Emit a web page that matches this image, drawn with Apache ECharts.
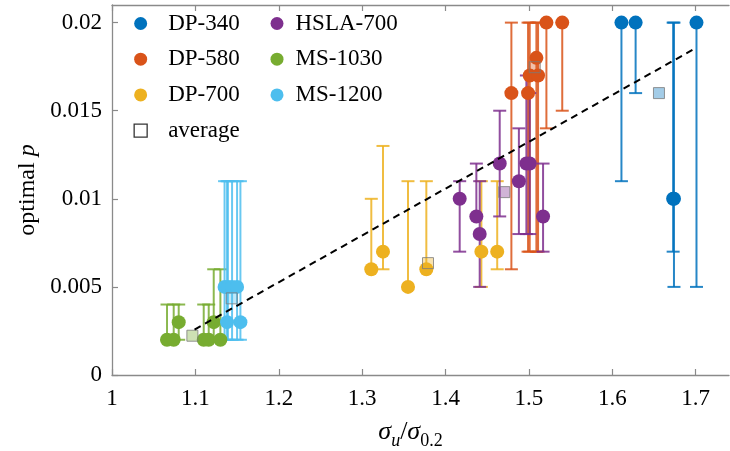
<!DOCTYPE html>
<html>
<head>
<meta charset="utf-8">
<script src="https://cdn.jsdelivr.net/npm/echarts@6/dist/echarts.min.js"></script>
<style>
  html, body { margin: 0; padding: 0; background: #fff; }
  #chart { width: 730px; height: 451px; }
</style>
</head>
<body>
<div id="chart"></div>
<script>
// Strength ratio (sigma_u / sigma_0.2) against the optimal p of each specimen,
// with the range of acceptable p drawn as an error bar.
const xTicks = [1, 1.1, 1.2, 1.3, 1.4, 1.5, 1.6, 1.7];
const yTicks = [0, 0.005, 0.01, 0.015, 0.02];

const dp340X  = [1.611, 1.628, 1.673, 1.674, 1.701];
const dp340P  = [0.020, 0.020, 0.010, 0.010, 0.020];
const dp340Lo = [0.011, 0.016, 0.007, 0.005, 0.005];
const dp340Hi = [0.020, 0.020, 0.020, 0.020, 0.020];

const dp580X  = [1.479, 1.499, 1.501, 1.509, 1.511, 1.521, 1.540];
const dp580P  = [0.016, 0.016, 0.017, 0.018, 0.017, 0.020, 0.020];
const dp580Lo = [0.006, 0.007, 0.007, 0.007, 0.007, 0.014, 0.015];
const dp580Hi = [0.020, 0.020, 0.020, 0.020, 0.020, 0.020, 0.020];

const dp700X  = [1.311, 1.325, 1.355, 1.377, 1.443, 1.462];
const dp700P  = [0.006, 0.007, 0.005, 0.006, 0.007, 0.007];
const dp700Lo = [0.006, 0.006, 0.005, 0.006, 0.005, 0.006];
const dp700Hi = [0.010, 0.013, 0.011, 0.011, 0.011, 0.011];

const hslaX  = [1.417, 1.437, 1.441, 1.465, 1.488, 1.497, 1.501, 1.517];
const hslaP  = [0.010, 0.009, 0.008, 0.012, 0.011, 0.012, 0.012, 0.009];
const hslaLo = [0.007, 0.009, 0.005, 0.009, 0.008, 0.008, 0.008, 0.007];
const hslaHi = [0.011, 0.012, 0.011, 0.015, 0.014, 0.017, 0.016, 0.012];

const ms1030X  = [1.066, 1.074, 1.080, 1.110, 1.116, 1.122, 1.130];
const ms1030P  = [0.002, 0.002, 0.003, 0.002, 0.002, 0.003, 0.002];
const ms1030Lo = [0.002, 0.002, 0.002, 0.002, 0.002, 0.002, 0.002];
const ms1030Hi = [0.004, 0.004, 0.004, 0.004, 0.004, 0.006, 0.006];

const ms1200X  = [1.135, 1.138, 1.139, 1.144, 1.150, 1.154];
const ms1200P  = [0.005, 0.003, 0.005, 0.005, 0.005, 0.003];
const ms1200Lo = [0.002, 0.002, 0.002, 0.002, 0.002, 0.002];
const ms1200Hi = [0.011, 0.011, 0.011, 0.011, 0.011, 0.011];

// Per-material averages and the linear trend through them
const avgX = [1.656, 1.507, 1.379, 1.4705, 1.0964, 1.1436];
const avgP = [0.0160, 0.01747, 0.00635, 0.01038, 0.00223, 0.00435];
const fitX = [1.099, 1.700];
const fitP = [0.00258, 0.01855];

const materials = [
  { name: 'DP-340',   color: '#0072BD', x: dp340X,  p: dp340P,  lo: dp340Lo,  hi: dp340Hi },
  { name: 'DP-580',   color: '#D95319', x: dp580X,  p: dp580P,  lo: dp580Lo,  hi: dp580Hi },
  { name: 'DP-700',   color: '#EDB120', x: dp700X,  p: dp700P,  lo: dp700Lo,  hi: dp700Hi },
  { name: 'HSLA-700', color: '#7E2F8E', x: hslaX,   p: hslaP,   lo: hslaLo,   hi: hslaHi },
  { name: 'MS-1030',  color: '#77AC30', x: ms1030X, p: ms1030P, lo: ms1030Lo, hi: ms1030Hi },
  { name: 'MS-1200',  color: '#4DBEEE', x: ms1200X, p: ms1200P, lo: ms1200Lo, hi: ms1200Hi }
];

const FONT = 'Liberation Serif';
const AXIS_COLOR = '#8a8a8a';

function hexToRgba(hex, a) {
  const n = parseInt(hex.slice(1), 16);
  return 'rgba(' + (n >> 16) + ',' + ((n >> 8) & 255) + ',' + (n & 255) + ',' + a + ')';
}

function errorBarRenderer(color) {
  return function (params, api) {
    const x = api.value(0);
    const top = api.coord([x, api.value(2)]);
    const bot = api.coord([x, api.value(1)]);
    const hw = 6.5;
    const style = { stroke: hexToRgba(color, 0.85), lineWidth: 2, fill: null };
    return {
      type: 'group',
      children: [
        { type: 'line', shape: { x1: top[0], y1: top[1], x2: bot[0], y2: bot[1] }, style: style },
        { type: 'line', shape: { x1: top[0] - hw, y1: top[1], x2: top[0] + hw, y2: top[1] }, style: style },
        { type: 'line', shape: { x1: bot[0] - hw, y1: bot[1], x2: bot[0] + hw, y2: bot[1] }, style: style }
      ]
    };
  };
}

const series = [];
materials.forEach(function (m) {
  series.push({
    name: m.name + ' range',
    type: 'custom',
    xAxisIndex: 0,
    yAxisIndex: 0,
    z: 2,
    renderItem: errorBarRenderer(m.color),
    encode: { x: 0, y: [1, 2] },
    data: m.x.map(function (x, i) { return [x, m.lo[i], m.hi[i]]; })
  });
  series.push({
    name: m.name,
    type: 'scatter',
    z: 2,
    symbol: 'circle',
    symbolSize: 14,
    itemStyle: { color: m.color, opacity: 1 },
    data: m.x.map(function (x, i) { return [x, m.p[i]]; })
  });
});

series.push({
  name: 'average',
  type: 'scatter',
  z: 3,
  symbol: 'rect',
  symbolSize: 11,
  data: avgX.map(function (x, i) {
    return {
      value: [x, avgP[i]],
      itemStyle: { color: hexToRgba(materials[i].color, 0.45), borderColor: '#7a7a7a', borderWidth: 1 }
    };
  })
});

series.push({
  name: 'fit',
  type: 'line',
  z: 4,
  symbol: 'none',
  lineStyle: { color: '#000', width: 2, type: [7, 5] },
  data: fitX.map(function (x, i) { return [x, fitP[i]]; })
});

const legendText = { fontFamily: FONT, fontSize: 23, color: '#000', lineHeight: 22 };

const option = {
  animation: false,
  backgroundColor: '#fff',
  grid: { left: 112, right: 1, top: 5, bottom: 76, containLabel: false, outerBoundsMode: 'none' },
  legend: [
    {
      orient: 'vertical', left: 128.5, top: 7,
      itemWidth: 13, itemHeight: 13, itemGap: 12.7,
      textStyle: Object.assign({}, legendText, { padding: [0, 0, 0, 16] }),
      data: [
        { name: 'DP-340', icon: 'circle' },
        { name: 'DP-580', icon: 'circle' },
        { name: 'DP-700', icon: 'circle' },
        { name: 'average', icon: 'rect', itemStyle: { color: '#fff', borderColor: '#000', borderWidth: 1.3 } }
      ]
    },
    {
      orient: 'vertical', left: 265.5, top: 7,
      itemWidth: 13, itemHeight: 13, itemGap: 12.7,
      textStyle: Object.assign({}, legendText, { padding: [0, 0, 0, 7] }),
      data: [
        { name: 'HSLA-700', icon: 'circle' },
        { name: 'MS-1030', icon: 'circle' },
        { name: 'MS-1200', icon: 'circle' }
      ]
    }
  ],
  xAxis: [
    {
      type: 'value', min: 1, max: 1.74, interval: 0.1,
      name: '{i|σ}{sub|u}{n|/}{i|σ}{sub2|0.2}',
      nameLocation: 'middle', nameGap: 40,
      nameTextStyle: {
        padding: [0, 20, 0, 0],
        rich: {
          i: { fontFamily: FONT, fontStyle: 'italic', fontSize: 26, color: '#000', verticalAlign: 'bottom', lineHeight: 30 },
          n: { fontFamily: FONT, fontSize: 26, color: '#000', verticalAlign: 'bottom', lineHeight: 30 },
          sub: { fontFamily: FONT, fontStyle: 'italic', fontSize: 18, color: '#000', verticalAlign: 'bottom', lineHeight: 30, padding: [0, 0, -5, 0] },
          sub2: { fontFamily: FONT, fontSize: 18, color: '#000', verticalAlign: 'bottom', lineHeight: 30, padding: [0, 0, -5, 0] }
        }
      },
      axisLine: { show: true, onZero: false, lineStyle: { color: AXIS_COLOR, width: 1.3 } },
      axisTick: { show: true, inside: true, length: 6, customValues: xTicks, lineStyle: { color: AXIS_COLOR, width: 1.2 } },
      axisLabel: {
        customValues: xTicks, margin: 12,
        fontFamily: FONT, fontSize: 23, color: '#000',
        formatter: function (v) { return String(Math.round(v * 10) / 10); }
      },
      splitLine: { show: false }
    },
    {
      type: 'value', position: 'top', min: 1, max: 1.74, interval: 0.1,
      axisLine: { show: true, onZero: false, lineStyle: { color: AXIS_COLOR, width: 1.3 } },
      axisTick: { show: true, inside: true, length: 6, customValues: xTicks, lineStyle: { color: AXIS_COLOR, width: 1.2 } },
      axisLabel: { show: false },
      splitLine: { show: false }
    }
  ],
  yAxis: {
    type: 'value', min: 0, max: 0.021, interval: 0.005,
    name: '{n|optimal }{i|p}',
    nameLocation: 'middle', nameGap: 71, nameRotate: 90,
    nameTextStyle: {
      rich: {
        n: { fontFamily: FONT, fontSize: 24, color: '#000' },
        i: { fontFamily: FONT, fontSize: 24, fontStyle: 'italic', color: '#000' }
      }
    },
    axisLine: { show: true, onZero: false, lineStyle: { color: AXIS_COLOR, width: 1.3 } },
    axisTick: { show: true, inside: true, length: 6, customValues: yTicks, lineStyle: { color: AXIS_COLOR, width: 1.2 } },
    axisLabel: {
      customValues: yTicks, margin: 10,
      fontFamily: FONT, fontSize: 23, color: '#000',
      formatter: function (v) { return v === 0 ? '0' : String(Math.round(v * 1000) / 1000); }
    },
    splitLine: { show: false }
  },
  series: series
};

const chart = echarts.init(document.getElementById('chart'), null, { renderer: 'canvas' });
chart.setOption(option);
</script>
</body>
</html>
